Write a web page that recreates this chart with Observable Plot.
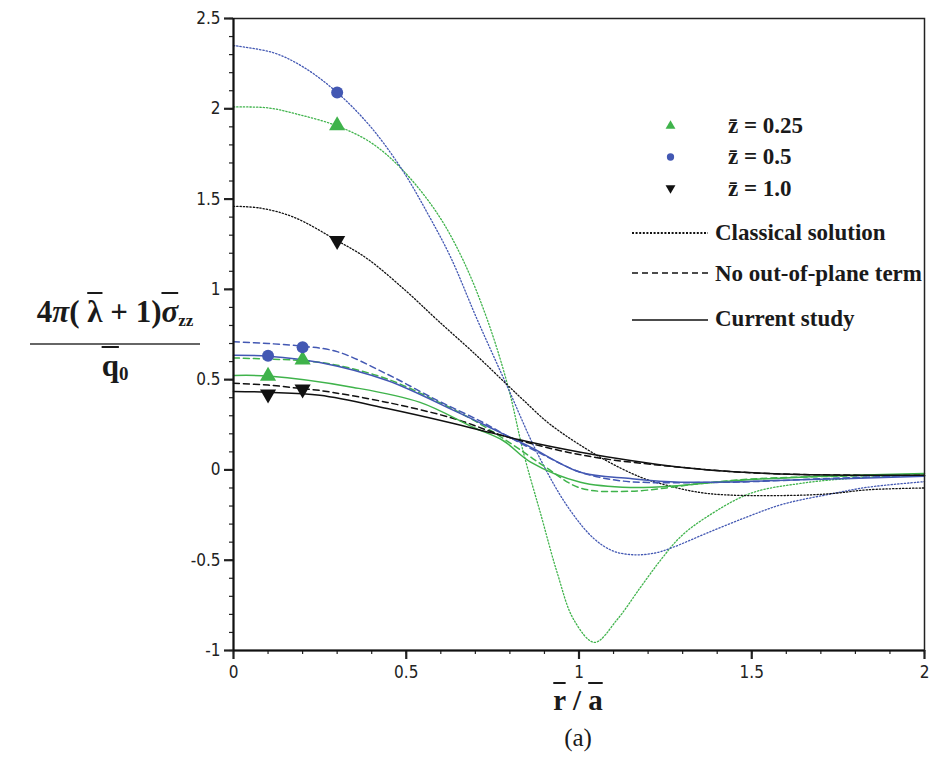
<!DOCTYPE html>
<html><head><meta charset="utf-8">
<script src="https://cdn.jsdelivr.net/npm/d3@7"></script>
<script src="https://cdn.jsdelivr.net/npm/@observablehq/plot@0.6"></script>
<style>
body{margin:0;background:#fff;}
#wrap{position:relative;width:942px;height:779px;overflow:hidden;}
#wrap svg{position:absolute;left:0;top:0;}
.lbl{position:absolute;font-family:"Liberation Serif","Times New Roman",serif;color:#1a1a1a;white-space:nowrap;}
.ov{text-decoration:overline;text-decoration-thickness:2px;}
</style></head><body><div id="wrap"></div>
<script>
// ---- data ----
const xTicks = [0, 0.5, 1, 1.5, 2];
const xTickLabels = ["0", "0.5", "1", "1.5", "2"];
const yTicks = [-1, -0.5, 0, 0.5, 1, 1.5, 2, 2.5];
const yTickLabels = ["-1", "-0.5", "0", "0.5", "1", "1.5", "2", "2.5"];
const zLevels = ["0.25", "0.5", "1.0"];
const models = ["Classical solution", "No out-of-plane term", "Current study"];

const classical025 = [[0,2.01],[0.1,2.005],[0.185,1.97],[0.3,1.905],[0.4,1.81],[0.49,1.66],[0.59,1.42],[0.665,1.16],[0.735,0.83],[0.795,0.46],[0.84,0.09],[0.89,-0.25],[0.937,-0.57],[0.985,-0.83],[1.045,-0.955],[1.11,-0.83],[1.178,-0.65],[1.236,-0.5],[1.294,-0.37],[1.37,-0.26],[1.496,-0.13],[1.64,-0.075],[1.8,-0.045],[2,-0.03]];
const classical05 = [[0,2.35],[0.116,2.31],[0.203,2.23],[0.3,2.09],[0.397,1.9],[0.489,1.66],[0.562,1.42],[0.628,1.18],[0.706,0.83],[0.793,0.46],[0.88,0.09],[0.966,-0.2],[1.043,-0.38],[1.1,-0.45],[1.16,-0.47],[1.22,-0.46],[1.27,-0.43],[1.37,-0.35],[1.487,-0.26],[1.59,-0.19],[1.737,-0.13],[1.835,-0.096],[2,-0.065]];
const classical10 = [[0,1.46],[0.078,1.45],[0.174,1.4],[0.3,1.27],[0.387,1.17],[0.5,0.99],[0.59,0.83],[0.7,0.64],[0.793,0.47],[0.84,0.385],[0.918,0.25],[1.062,0.07],[1.178,-0.04],[1.256,-0.086],[1.35,-0.125],[1.447,-0.14],[1.64,-0.14],[1.737,-0.13],[1.835,-0.11],[2,-0.1]];

const noOut025 = [[0,0.62],[0.2,0.605],[0.3,0.58],[0.45,0.5],[0.6,0.37],[0.7,0.27],[0.8,0.15],[0.9,0.02],[1.004,-0.1],[1.149,-0.118],[1.35,-0.076],[1.5,-0.05],[1.75,-0.035],[2,-0.03]];
const noOut05 = [[0,0.71],[0.1,0.70],[0.2,0.685],[0.3,0.655],[0.445,0.53],[0.59,0.385],[0.715,0.27],[0.8,0.18],[0.9,0.08],[1.0,-0.01],[1.1,-0.055],[1.2,-0.07],[1.35,-0.07],[1.5,-0.065],[1.75,-0.045],[2,-0.03]];
const noOut10 = [[0,0.48],[0.1,0.47],[0.2,0.45],[0.25,0.44],[0.445,0.374],[0.637,0.285],[0.78,0.19],[0.927,0.115],[1.062,0.065],[1.256,0.022],[1.447,-0.01],[1.64,-0.025],[2,-0.03]];

const current025 = [[0,0.523],[0.1,0.52],[0.347,0.457],[0.54,0.374],[0.695,0.235],[0.78,0.163],[0.86,0.043],[1.004,-0.068],[1.149,-0.097],[1.294,-0.086],[1.447,-0.06],[1.64,-0.04],[2,-0.02]];
const current05 = [[0,0.635],[0.1,0.63],[0.25,0.595],[0.445,0.495],[0.637,0.33],[0.715,0.26],[0.78,0.2],[0.86,0.126],[1.004,-0.013],[1.149,-0.048],[1.294,-0.068],[1.64,-0.055],[2,-0.035]];
const current10 = [[0,0.435],[0.1,0.43],[0.25,0.413],[0.445,0.34],[0.637,0.257],[0.715,0.22],[0.86,0.153],[1.004,0.098],[1.149,0.052],[1.294,0.015],[1.447,-0.01],[1.64,-0.025],[2,-0.03]];

const markers025 = [[0.1,0.52],[0.2,0.61],[0.3,1.907]];
const markers05 = [[0.1,0.632],[0.2,0.68],[0.3,2.09]];
const markers10 = [[0.1,0.42],[0.2,0.447],[0.3,1.27]];

// ---- tables ----
const curveSets = [
  [models[0], "0.25", classical025], [models[0], "0.5", classical05], [models[0], "1.0", classical10],
  [models[1], "0.25", noOut025], [models[1], "0.5", noOut05], [models[1], "1.0", noOut10],
  [models[2], "0.25", current025], [models[2], "0.5", current05], [models[2], "1.0", current10]
];
const rows = curveSets.flatMap(([m, z, pts]) => pts.map(([x, y]) => ({model: m, z, key: m + z, x, y})));
const markerRows = [["0.25", markers025], ["0.5", markers05], ["1.0", markers10]]
  .flatMap(([z, pts]) => pts.map(([x, y]) => ({z, x, y})));

const GREEN = "#3fb34b", BLUE = "#4358b3", BLACK = "#111";
const colors = [GREEN, BLUE, BLACK];
const sqrt3 = Math.sqrt(3);
const triUp = {draw(c, s) { const y = -Math.sqrt(s / (sqrt3 * 3)); c.moveTo(0, y * 2); c.lineTo(-sqrt3 * y, -y); c.lineTo(sqrt3 * y, -y); c.closePath(); }};
const triDown = {draw(c, s) { const y = -Math.sqrt(s / (sqrt3 * 3)); c.moveTo(0, -y * 2); c.lineTo(-sqrt3 * y, y); c.lineTo(sqrt3 * y, y); c.closePath(); }};
const symbols = [triUp, d3.symbolCircle, triDown];

const dash = {[models[0]]: "1.3 2", [models[1]]: "6 4", [models[2]]: null};
const widths = {[models[0]]: 1.3, [models[1]]: 1.5, [models[2]]: 1.5};

const minorX = d3.range(0, 2.0001, 0.1).map(v => +v.toFixed(2));
const minorY = d3.range(-1, 2.5001, 0.1).map(v => +v.toFixed(2));
const tickFont = "'Liberation Sans Narrow','DejaVu Sans Condensed','Liberation Sans',sans-serif";

const plot = Plot.plot({
  width: 942, height: 779,
  marginTop: 18, marginRight: 18, marginBottom: 129, marginLeft: 233,
  x: {domain: [0, 2], label: null},
  y: {domain: [-1, 2.5], label: null},
  color: {domain: zLevels, range: colors},
  symbol: {domain: zLevels, range: symbols},
  style: {fontFamily: tickFont, fontSize: "16px", color: "#222", background: "#fff"},
  marks: [
    ...models.map(m => Plot.line(rows.filter(d => d.model === m), {
      x: "x", y: "y", z: "key", stroke: "z", curve: "catmull-rom",
      strokeWidth: widths[m], strokeDasharray: dash[m]
    })),
    Plot.dot(markerRows, {x: "x", y: "y", symbol: "z", fill: "z", stroke: "none", r: 6}),
    Plot.axisX(minorX, {tickSize: 4, text: null, strokeWidth: 1.2, label: null}),
    Plot.axisY(minorY, {tickSize: 4, text: null, strokeWidth: 1.2, label: null}),
    Plot.axisX(xTicks, {tickSize: 9, tickPadding: 6, strokeWidth: 2.2, label: null, fontSize: 17,
      tickFormat: d => xTickLabels[xTicks.indexOf(d)]}),
    Plot.axisY(yTicks, {tickSize: 9, tickPadding: 4, strokeWidth: 2.2, label: null, fontSize: 17,
      tickFormat: d => yTickLabels[yTicks.indexOf(d)]}),
    Plot.frame({stroke: "#222", strokeWidth: 1.5}),
    Plot.ruleX([0], {stroke: "#111", strokeWidth: 2}),
    Plot.ruleY([-1], {stroke: "#111", strokeWidth: 2})
  ]
});
document.getElementById("wrap").appendChild(plot);

// ---- legend (inside plot) ----
const svg = d3.select(plot);
const lg = svg.append("g").attr("font-family", "'Liberation Serif','Times New Roman',serif")
  .attr("font-weight", "bold").attr("font-size", 23).attr("fill", "#1a1a1a").attr("text-anchor", "start");
const symRows = [[126, 133], [157, 164], [188, 196]];
zLevels.forEach((z, i) => {
  lg.append("path").attr("transform", `translate(670.5,${symRows[i][0]})`)
    .attr("d", d3.symbol(symbols[i], 42)()).attr("fill", colors[i]);
  lg.append("text").attr("x", 728).attr("y", symRows[i][1]).text("z\u0304 = " + z);
});
const lineRows = [[233, 240], [273, 281], [320, 326]];
models.forEach((m, i) => {
  lg.append("line").attr("x1", 632).attr("x2", 708).attr("y1", lineRows[i][0]).attr("y2", lineRows[i][0])
    .attr("stroke", "#111").attr("stroke-width", i === 0 ? 2.2 : 1.6)
    .attr("stroke-dasharray", i === 0 ? "2 1.6" : i === 1 ? "6 4" : null);
  lg.append("text").attr("x", 715).attr("y", lineRows[i][1]).text(m);
});

// ---- axis titles and caption ----
const wrap = document.getElementById("wrap");
wrap.insertAdjacentHTML("beforeend", `
<div class="lbl" style="left:30px;top:292px;width:170px;text-align:center;font-weight:bold;">
  <div style="font-size:31px;line-height:40px;border-bottom:2px solid #666;padding-bottom:2px;">4<i>π</i>( <span class="ov">λ</span> + 1)<span class="ov"><i>σ</i></span><sub style="font-size:17px;vertical-align:-4px;">zz</sub></div>
  <div style="font-size:31px;line-height:42px;"><span class="ov">q</span><sub style="font-size:19px;vertical-align:-4px;">0</sub></div>
</div>
<div class="lbl" style="left:478px;width:200px;top:684px;text-align:center;font-weight:bold;font-size:29px;"><span class="ov">r</span> / <span class="ov">a</span></div>
<div class="lbl" style="left:478px;width:200px;top:724px;text-align:center;font-size:25px;">(a)</div>
`);
</script>
</body></html>
